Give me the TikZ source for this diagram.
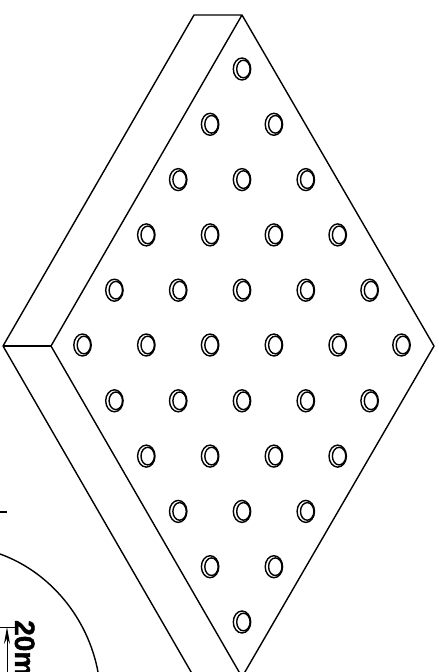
\documentclass[tikz,border=0pt]{standalone}
\usepackage{fontspec}
\setmainfont{Liberation Sans}
\newfontfamily\labfont[FakeBold=1.5]{Liberation Sans}
\usetikzlibrary{arrows.meta}
\tikzset{edge/.style={line width=1.4pt,line join=round},
 holeo/.style={line width=1.4pt},
 holei/.style={line width=1.4pt}}
\newcommand{\hole}[2]{%
 \draw[holeo] (#1,#2) ellipse [x radius=8.7,y radius=11];
 \draw[holei] (#1+1.4,#2) ellipse [x radius=6.7,y radius=8.8];
}
\begin{document}
\begin{tikzpicture}[x=1pt,y=-1pt]
\useasboundingbox (0,0) rectangle (439,672);
\clip (0,0) rectangle (439,672);
\coordinate (tl) at (194,15);
\coordinate (tr) at (242,15);
\coordinate (r) at (434,346);
\coordinate (l) at (51,346);
\coordinate (ol) at (3,346);
\coordinate (b) at (242,677);
\coordinate (ob) at (194,677);
\draw[edge] (ol) -- (tl) -- (tr) -- (r) -- (b) -- (l) -- (tr);
\draw[edge] (ol) -- (l);
\draw[edge] (ol) -- (ob) -- (b);
\coordinate (t1) at (0,512);
\coordinate (t2) at (7,512);
\draw[edge] (t1) -- (t2);
\coordinate (c1) at (0,554);
\coordinate (c2) at (98,672);
\draw[edge] (c1) .. controls (50,572) and (88,618) .. (c2);
\coordinate (d1) at (0,627);
\coordinate (d2) at (15,627);
\coordinate (d3) at (7,672);
\coordinate (d4) at (7,627);
\draw[line width=1pt] (d1) -- (d2);
\draw[line width=1pt,-{Stealth[length=17pt,width=6pt]}] (d3) -- (d4);
\node[rotate=-90,anchor=base west,inner sep=0pt,font=\labfont\bfseries\fontsize{28}{28}\selectfont] (lab) at (15,620) {20m};
\foreach \r/\a/\n in {0/0/1,1/-1/2,2/-2/3,3/-3/4,4/-4/5,6/-4/5,7/-3/4,8/-2/3,9/-1/2,10/0/1}{
 \pgfmathsetmacro{\yy}{69+\r*55.3}
 \pgfmathtruncatemacro{\m}{\n-1}
 \foreach \k in {0,...,\m}{
  \pgfmathsetmacro{\xx}{242+(\a+2*\k)*31.9}
  \hole{\xx}{\yy}
 }
}
\foreach \x in {-5,-3,-1,1,3,5}{
 \pgfmathsetmacro{\xx}{242+\x*31.9}
 \hole{\xx}{345}
}
\end{tikzpicture}
\end{document}
